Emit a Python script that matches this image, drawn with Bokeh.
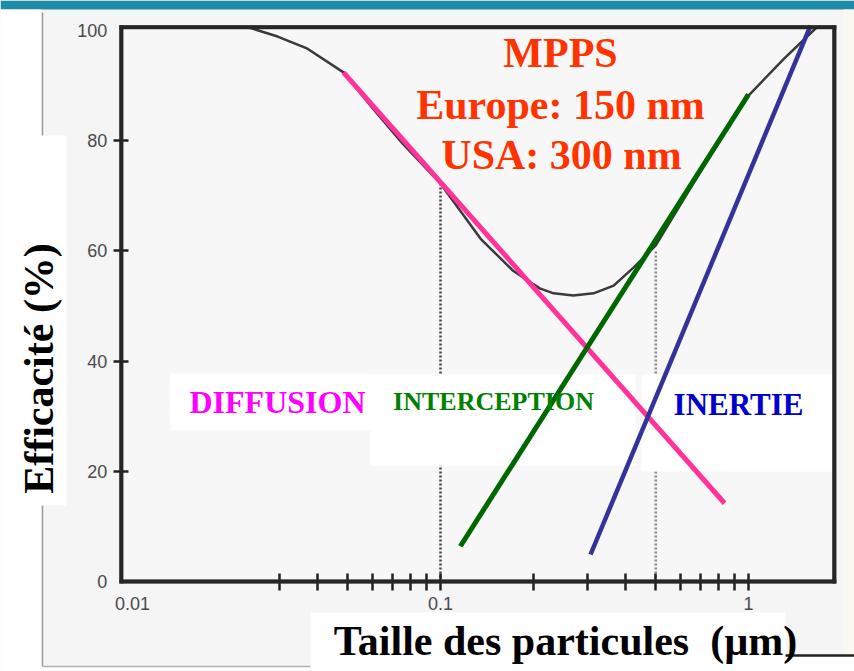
import math
from bokeh.plotting import figure
from bokeh.models import (Range1d, FixedTicker, LinearAxis, LogAxis, Label,
                          CustomJSTickFormatter, BoxAnnotation)
from bokeh.embed import file_html
from bokeh.resources import INLINE

# ---------------- data ----------------
x_label_ticks = [0.01, 0.1, 1]
x_major_marks = [0.1, 1]
x_minor_marks = [0.03, 0.04, 0.05, 0.06, 0.07, 0.08, 0.09,
                 0.2, 0.3, 0.4, 0.5, 0.6, 0.7, 0.8, 0.9]
y_label_ticks = [0, 20, 40, 60, 80, 100]
y_tick_marks = [20, 40, 60, 80]

# overall efficiency curve (particle size in um, efficiency in %)
curve_size = [0.0092, 0.024, 0.0296, 0.037, 0.0484, 0.06, 0.075, 0.1, 0.135,
              0.172, 0.21, 0.233, 0.27, 0.314, 0.365, 0.424, 0.47, 0.5,
              0.7, 1.0, 1.3, 1.66]
curve_eff = [100.5, 100.5, 98.9, 96.7, 92.4, 86.0, 79.6, 72.2, 62.2,
             56.4, 53.2, 52.3, 51.9, 52.3, 53.7, 57.0, 59.5, 61.0,
             74.5, 88.2, 94.8, 100.5]

# mechanism lines
diffusion_size = [0.0484, 0.836]
diffusion_eff = [92.4, 14.2]
interception_size = [0.116, 1.0]
interception_eff = [6.4, 88.4]
inertia_size = [0.307, 1.59]
inertia_eff = [4.9, 100.9]

# dotted MPPS bounds
mpps_size = [0.1, 0.5]
mpps_eff = [72.2, 60.0]

# plot frame extent
frame_size = [0.0092, 1.9]
frame_eff = [0, 100.6]

# ---------------- layout helpers (pixel -> data) ----------------
W, H = 854, 671
def sx(px):
    return 10 ** (-1 + (px - 440) / 308.0)

def sy(py):
    return (581 - py) / 5.51

p = figure(width=W, height=H, x_axis_type="log",
           x_range=Range1d(sx(0), sx(W)), y_range=Range1d(sy(H), sy(0)),
           output_backend="svg", toolbar_location=None, min_border=0,
           background_fill_color="#f5f5f5", border_fill_color="#f5f5f5",
           outline_line_color=None)
p.grid.visible = False

def box(x0, y0, x1, y1, color):
    p.quad(left=[sx(x0)], right=[sx(x1)], top=[sy(y0)], bottom=[sy(y1)],
           fill_color=color, line_color=None)

# page background pieces
box(0, 0, W, 9, "#1f8ca7")
box(0, 9, 41, H, "white")
box(843, 9, W, 655, "#f9f9f1")
box(41, 666, 310, H, "white")
box(785, 655, W, H, "white")
p.segment(x0=[sx(42)], y0=[sy(12)], x1=[sx(42)], y1=[sy(666)], line_color="#9a9a9a", line_width=1.5)
p.segment(x0=[sx(42)], y0=[sy(666)], x1=[sx(310)], y1=[sy(666)], line_color="#b0b0b0", line_width=1.5)
p.segment(x0=[sx(780)], y0=[sy(655)], x1=[sx(W)], y1=[sy(655)], line_color="#222222", line_width=2.5)

# frame area
p.quad(left=[frame_size[0]], right=[frame_size[1]], bottom=[frame_eff[0]], top=[frame_eff[1]],
       fill_color="#f7f7f7", line_color=None)

# dotted bounds and curve
p.segment(x0=mpps_size, y0=[0, 0], x1=mpps_size, y1=mpps_eff,
          line_color=["#444444", "#888888"], line_width=2.5, line_dash="2 2")
p.line(curve_size, curve_eff, line_color="#3a3a3a", line_width=2.5, line_join="round")

# white label boxes
box(0, 135, 66, 505, "white")
box(310, 612, 785, H, "white")
box(170, 373, 370, 430, "white")
box(370, 374, 635, 465, "white")
box(641, 374, 832, 471, "white")

# mechanism lines
p.line(diffusion_size, diffusion_eff, line_color="#ff3399", line_width=5)
p.line(interception_size, interception_eff, line_color="#006600", line_width=5)
p.line(inertia_size, inertia_eff, line_color="#333399", line_width=4.5)

# frame outline
p.segment(x0=[frame_size[0], frame_size[0], frame_size[0], frame_size[1]],
          y0=[frame_eff[0], frame_eff[1], frame_eff[0], frame_eff[0]],
          x1=[frame_size[1], frame_size[1], frame_size[0], frame_size[1]],
          y1=[frame_eff[0], frame_eff[1], frame_eff[1], frame_eff[1]],
          line_color="#262626", line_width=4, line_cap="square")

# ---------------- axes ----------------
tick_font = "Liberation Sans"
xa = p.xaxis[0]
xa.fixed_location = 0
xa.ticker = FixedTicker(ticks=x_label_ticks)
xa.formatter = CustomJSTickFormatter(code="return String(tick)")
xa.major_tick_in = 0
xa.major_tick_out = 0
xa.minor_tick_in = 0
xa.minor_tick_out = 0
xa.major_tick_line_color = None
xa.minor_tick_line_color = None
xa.axis_line_color = None
xa.major_label_standoff = 15
xa.major_label_text_font = tick_font
xa.major_label_text_font_size = "18px"
xa.major_label_text_color = "#4a4a4a"

xm = LogAxis(fixed_location=0, ticker=FixedTicker(ticks=x_major_marks, minor_ticks=x_minor_marks),
             major_label_text_color=None, axis_line_color=None,
             major_tick_in=8, major_tick_out=9, minor_tick_in=8, minor_tick_out=9,
             major_tick_line_color="#222222", minor_tick_line_color="#222222",
             major_tick_line_width=2.5, minor_tick_line_width=2.5)
p.add_layout(xm, "below")

ya = p.yaxis[0]
ya.fixed_location = frame_size[0]
ya.ticker = FixedTicker(ticks=y_label_ticks)
ya.major_tick_in = 0
ya.major_tick_out = 0
ya.minor_tick_in = 0
ya.minor_tick_out = 0
ya.major_tick_line_color = None
ya.minor_tick_line_color = None
ya.axis_line_color = None
ya.major_label_standoff = 14
ya.major_label_text_font = tick_font
ya.major_label_text_font_size = "18px"
ya.major_label_text_color = "#4a4a4a"

ym = LinearAxis(fixed_location=frame_size[0], ticker=FixedTicker(ticks=y_tick_marks),
                major_label_text_color=None, axis_line_color=None,
                major_tick_in=7, major_tick_out=8, minor_tick_in=0, minor_tick_out=0,
                major_tick_line_color="#222222", major_tick_line_width=2.5)
p.add_layout(ym, "left")

# ---------------- texts ----------------
serif = "Liberation Serif"
def lab(text, px, py, size, color, angle=0.0):
    shift = 0.36 * size
    if angle:
        px -= shift
    else:
        py -= shift
    p.add_layout(Label(x=sx(px), y=sy(py), text=text, text_align="center",
                       text_baseline="alphabetic", text_font=serif,
                       text_font_size=f"{size}px", text_font_style="bold",
                       text_color=color, angle=angle))

lab("MPPS", 560, 68, 42, "#ff3300")
lab("Europe: 150 nm", 560, 120, 42, "#ff3300")
lab("USA: 300 nm", 561, 170, 42, "#ff3300")
lab("DIFFUSION", 277, 413, 32, "#ff00ff")
lab("INTERCEPTION", 493, 410, 26, "#008000")
lab("INERTIE", 738, 415, 31, "#0000cc")
lab("Taille des particules\u00a0 (\u00b5m)", 565, 656, 42, "black")
lab("Efficacit\u00e9 (%)", 54, 368, 42, "black", angle=math.pi / 2)

# frame outline again as an annotation, drawn above the guides
p.add_layout(BoxAnnotation(left=frame_size[0], right=frame_size[1],
                           bottom=frame_eff[0], top=frame_eff[1],
                           fill_color=None, fill_alpha=0,
                           line_color="#262626", line_width=3.5, line_alpha=1.0))

open("out.html", "w").write(file_html(p, INLINE))
